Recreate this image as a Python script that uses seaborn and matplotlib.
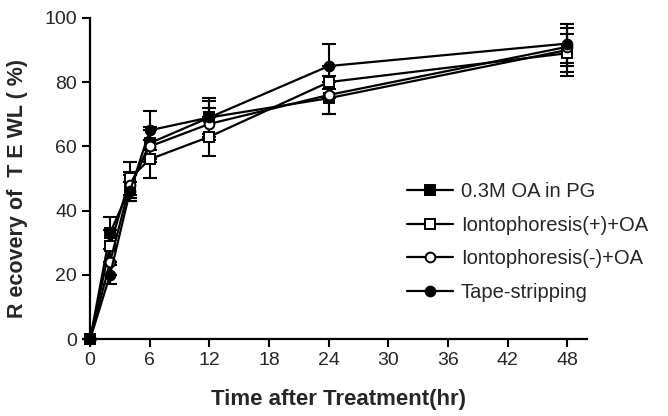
import matplotlib
matplotlib.use('Agg')
import matplotlib.pyplot as plt
import seaborn as sns
import pandas as pd

time = [0, 2, 4, 6, 12, 24, 48]

oa_pg      = [0, 33, 47, 61, 69, 75, 90]
oa_pg_err  = [0, 5, 4, 5, 5, 5, 8]
ion_pos    = [0, 29, 50, 56, 63, 80, 89]
ion_pos_err = [0, 5, 5, 6, 6, 5, 6]
ion_neg    = [0, 24, 48, 60, 67, 76, 91]
ion_neg_err = [0, 4, 4, 5, 5, 6, 6]
tape       = [0, 20, 46, 65, 69, 85, 92]
tape_err   = [0, 3, 3, 6, 6, 7, 6]

labels = ['0.3M OA in PG', 'Iontophoresis(+)+OA', 'Iontophoresis(-)+OA', 'Tape-stripping']
series = [oa_pg, ion_pos, ion_neg, tape]
errors = [oa_pg_err, ion_pos_err, ion_neg_err, tape_err]
markers = ['s', 's', 'o', 'o']
faces = ['black', 'white', 'white', 'black']

sns.set_style('ticks')
plt.rcParams['font.family'] = ['Liberation Sans', 'DejaVu Sans']

fig = plt.figure(figsize=(6.68, 4.16), dpi=100)
ax = fig.add_axes([0.135, 0.185, 0.744, 0.772])

for lab, y, e, m, fc in zip(labels, series, errors, markers, faces):
    df = pd.DataFrame({'t': time, 'v': y})
    ax.errorbar(time, y, yerr=e, fmt='none', ecolor='black', elinewidth=1.5,
                capsize=5, capthick=1.5, clip_on=False, zorder=2)
    sns.lineplot(data=df, x='t', y='v', ax=ax, color='black', linewidth=1.6,
                 marker=m, markersize=7, markerfacecolor=fc, markeredgecolor='black',
                 markeredgewidth=1.4, label=lab, clip_on=False, zorder=3)

ax.set_xlim(0, 50)
ax.set_ylim(0, 100)
ax.set_xticks(range(0, 49, 6))
ax.set_yticks(range(0, 101, 20))
ax.tick_params(labelsize=14, width=1.5, length=6, color='black')
for s in ['top', 'right']:
    ax.spines[s].set_visible(False)
for s in ['left', 'bottom']:
    ax.spines[s].set_linewidth(1.6)
    ax.spines[s].set_color('black')

ax.set_xlabel('Time after Treatment(hr)', fontsize=16, fontweight='bold', labelpad=14)
ax.set_ylabel('R ecovery of  T E WL ( %)', fontsize=15.5, fontweight='bold')
ax.yaxis.set_label_coords(-0.125, 0.47)

ax.legend(loc='upper left', bbox_to_anchor=(0.6, 0.545), frameon=False, fontsize=14.5,
          handlelength=2.3, handletextpad=0.4, labelspacing=0.72)

fig.savefig('out.png', dpi=100)
